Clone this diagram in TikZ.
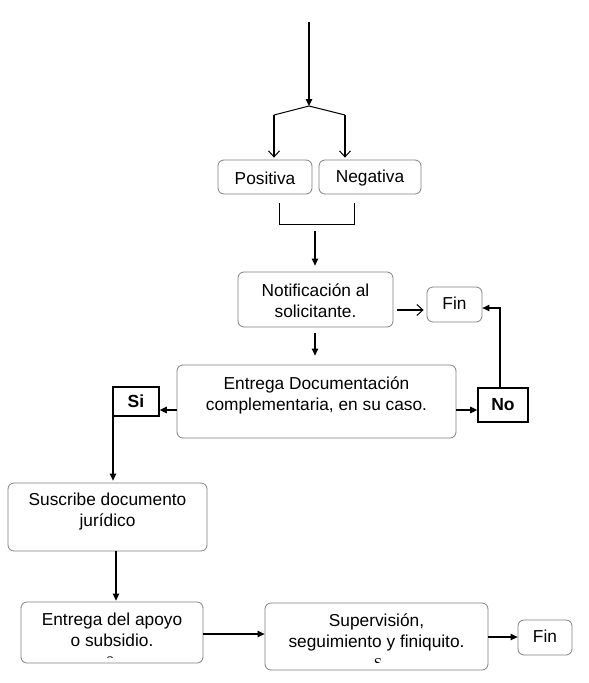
\documentclass[tikz,border=0pt]{standalone}
\usepackage{fontspec}
\setmainfont{Liberation Sans}
\newfontfamily\serifS{Liberation Serif}
\usetikzlibrary{arrows.meta}
\begin{document}
\begin{tikzpicture}[x=1pt,y=-1pt,
  box/.style={draw=black!50, line width=0.8pt, rounded corners=6pt, inner sep=0pt},
  tagbox/.style={draw=black, line width=1.6pt, inner sep=0pt, font=\fontsize{17.5}{20}\selectfont\bfseries},
  txt/.style={align=center, inner sep=0pt, font=\fontsize{17.3}{21}\selectfont},
  arr/.style={line width=1.1pt, -{Triangle[length=7pt,width=6.5pt]}},
  oarr/.style={line width=1.1pt, -{Straight Barb[length=6pt,width=11pt,line width=1pt]}},
  ln/.style={line width=1pt}]
\useasboundingbox (0,0) rectangle (589,683);
% boxes
\node[box, minimum width=94pt, minimum height=34pt] (pos) at (265,177) {};
\node[txt] (post) at (265,178) {Positiva};
\node[box, minimum width=102pt, minimum height=34pt] (neg) at (370,177) {};
\node[txt] (negt) at (370,178) {Negativa};
\node[box, minimum width=155pt, minimum height=55pt] (notif) at (315.5,299.5) {};
\node[txt] (notift) at (315.5,300.5) {Notificación al\\solicitante.};
\node[box, minimum width=55pt, minimum height=35pt] (fin1) at (454.5,304.5) {};
\node[txt] (fin1t) at (454.5,303.5) {Fin};
\node[box, minimum width=279pt, minimum height=73pt] (ent) at (316.5,401.5) {};
\node[txt] (entt) at (316.5,395) {Entrega Documentación\\complementaria, en su caso.};
\node[tagbox, minimum width=50pt, minimum height=34pt] (no) at (503,405) {No};
\node[tagbox, minimum width=46pt, minimum height=29pt] (si) at (136,401.5) {Si};
\node[box, minimum width=199pt, minimum height=68pt] (susc) at (107.5,517) {};
\node[txt] (susct) at (107.5,511.5) {Suscribe documento\\jurídico};
\node[box, minimum width=182pt, minimum height=61pt] (apoyo) at (112,632.5) {};
\node[txt] (apoyot) at (112,630) {Entrega del apoyo\\o subsidio.};
\node[box, minimum width=223pt, minimum height=67pt] (sup) at (376.5,636.5) {};
\node[txt] (supt) at (376.5,632) {Supervisión,\\seguimiento y finiquito.};
\node[box, minimum width=54pt, minimum height=35pt] (fin2) at (545,637.5) {};
\node[txt] (fin2t) at (545,636.5) {Fin};
% clipped stray glyphs
\begin{scope}
\clip (360,650) rectangle (400,662);
\node[inner sep=0pt, font=\serifS\fontsize{15}{15}\selectfont] (sS) at (378,664) {S};
\end{scope}
\begin{scope}
\clip (100,652) rectangle (120,657);
\node[inner sep=0pt, font=\fontsize{11}{11}\selectfont] (sA) at (110,661) {S};
\end{scope}
% coordinates
\coordinate (top) at (309,22);
\coordinate (fork) at (309,106);
\coordinate (fl) at (274,115);
\coordinate (fr) at (345,115);
\coordinate (b1) at (279,203);
\coordinate (b2) at (279,224);
\coordinate (b3) at (354,224);
\coordinate (b4) at (354,203);
\coordinate (bm) at (315,231);
% connectors
\draw[arr] (top) -- (fork);
\draw[ln] (fl) -- (fork) -- (fr);
\draw[oarr, shorten >=2pt] (fl) -- (fl |- pos.north);
\draw[oarr, shorten >=2pt] (fr) -- (fr |- neg.north);
\draw[ln] (b1) -- (b2) -- (b3) -- (b4);
\draw[arr, shorten >=6pt] (bm) -- (bm |- notif.north);
\draw[oarr, shorten <=4pt, shorten >=3pt] (notif.east |- 0,310) -- (fin1.west |- 0,310);
\draw[arr, shorten <=6pt, shorten >=9pt] (315,327) -- (ent.north -| 315,0);
\draw[arr] (ent.east |- 0,410) -- (no.west |- 0,410);
\draw[arr] (no.north -| 500,0) |- (fin1.east |- 0,308);
\draw[arr] (ent.west |- 0,410) -- (si.east |- 0,410);
\draw[arr, shorten >=2pt] (si.south west -| 113,0) -- (113,0 |- susc.north);
\draw[arr, shorten >=1pt] (susc.south -| 116,0) -- (116,0 |- apoyo.north);
\draw[arr] (apoyo.east |- 0,634) -- (sup.west |- 0,634);
\draw[arr] (sup.east |- 0,637) -- (fin2.west |- 0,637);
\end{tikzpicture}
\end{document}
